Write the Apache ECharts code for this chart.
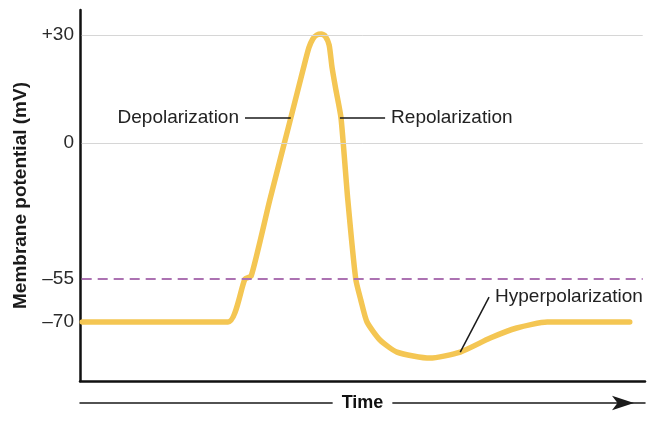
<!DOCTYPE html>
<html>
<head>
<meta charset="utf-8">
<script src="https://cdn.jsdelivr.net/npm/echarts@6/dist/echarts.min.js"></script>
<style>
  html, body { margin: 0; background: #fff; }
  #chart { width: 650px; height: 436px; }
</style>
</head>
<body>
<div id="chart"></div>
<script>
// time (arbitrary units, 0-100) and membrane potential (mV)
const time = [0.4, 26.2, 29.2, 30.3, 33.6, 37.3, 39.6, 40.5, 41.2, 41.9, 42.7, 43.4, 44.1, 44.6,
  45.3, 46.2, 47.4, 48.8, 49.7, 50.8, 53.1, 56.1, 61.9, 67.3, 72.6, 77.3, 82.7, 97.3];
const potential = [-70, -70, -55, -53.8, -23, 6.9, 21.1, 26.4, 28.9, 30, 30.3, 29.7, 27.2, 21.1,
  14.7, 6.9, -23, -55, -62.3, -70, -76.3, -80.5, -82.6, -80.5, -75.6, -72.1, -70, -70];

const tickValues = [30, 0, -55, -70];
const tickLabels = ['+30', '0', '–55', '–70'];
const threshold = -55;

// callouts: [text, t1, mV1, t2, mV2, label side]
const callouts = [
  ['Depolarization', 29.2, 6.9, 37.3, 6.9, 'left'],
  ['Repolarization', 46.0, 6.9, 54.0, 6.9, 'right'],
  ['Hyperpolarization', 67.3, -80.5, 72.4, -61.3, 'right']
];

// the drawing's potential axis is schematic (not linear), so map mV onto a warped axis
const scaleMv = [-70, -55, 0, 30];
const scalePos = [59, 102, 238, 346];
function toAxis(mv) {
  let i = 0;
  if (mv <= scaleMv[0]) i = 0;
  else if (mv >= scaleMv[scaleMv.length - 1]) i = scaleMv.length - 2;
  else while (mv > scaleMv[i + 1]) i++;
  const k = (scalePos[i + 1] - scalePos[i]) / (scaleMv[i + 1] - scaleMv[i]);
  return scalePos[i] + (mv - scaleMv[i]) * k;
}

const font = '"Liberation Sans", Arial, Helvetica, sans-serif';
const myChart = echarts.init(document.getElementById('chart'));

const gridLine = (mv, style) => [
  { coord: [0.3, toAxis(mv)], lineStyle: style },
  { coord: [99.6, toAxis(mv)] }
];

const option = {
  animation: false,
  textStyle: { fontFamily: font },
  grid: { left: 80, right: 5, top: 10, bottom: 55 },
  xAxis: [
    {
      type: 'value', min: 0, max: 100,
      axisLine: { onZero: false, lineStyle: { color: '#111', width: 2.5 } },
      axisTick: { show: false }, axisLabel: { show: false }, splitLine: { show: false }
    },
    {
      type: 'value', min: 0, max: 100, position: 'bottom', offset: 22,
      axisLine: {
        show: true, onZero: false,
        symbol: ['none', 'arrow'], symbolSize: [11, 22], symbolOffset: [0, -11],
        lineStyle: { color: '#1a1a1a', width: 1.5 }
      },
      axisTick: { show: false }, axisLabel: { show: false }, splitLine: { show: false }
    }
  ],
  yAxis: {
    type: 'value', min: 0, max: 371,
    axisLine: { show: true, onZero: false, lineStyle: { color: '#111', width: 2.5 } },
    axisTick: { show: false },
    splitLine: { show: false },
    axisLabel: {
      customValues: tickValues.map(toAxis),
      formatter: function (v) {
        const i = tickValues.findIndex(m => Math.abs(toAxis(m) - v) < 0.5);
        return i >= 0 ? tickLabels[i] : '';
      },
      fontSize: 19, color: '#2a2a2a', margin: 6, fontFamily: font
    },
    name: 'Membrane potential (mV)', nameLocation: 'middle', nameGap: 50,
    nameTextStyle: { fontFamily: font, fontSize: 19, fontWeight: 'bold', color: '#1a1a1a' }
  },
  graphic: [{
    type: 'text', x: 362.5, y: 403, z: 100,
    style: {
      text: 'Time', font: 'bold 18px ' + font, fill: '#111',
      align: 'center', verticalAlign: 'middle',
      backgroundColor: '#fff', padding: [2, 9]
    }
  }],
  series: [
    {
      name: 'guides', type: 'line', data: [], z: 1, silent: true,
      markLine: {
        symbol: 'none', silent: true, label: { show: false },
        data: [
          gridLine(30, { color: '#d6d6d6', width: 1, type: 'solid' }),
          gridLine(0, { color: '#d6d6d6', width: 1, type: 'solid' }),
          gridLine(threshold, { color: '#ac72b2', width: 2, type: [10, 6] })
        ].concat(callouts.map(c => [
          { coord: [c[1], toAxis(c[2])], lineStyle: { color: '#1a1a1a', width: 1.5, type: 'solid' } },
          { coord: [c[3], toAxis(c[4])] }
        ]))
      },
      markPoint: {
        symbol: 'circle', symbolSize: 0, silent: true,
        label: { show: true, fontFamily: font, fontSize: 19, color: '#222', distance: 6 },
        data: callouts.map(c => c[5] === 'left'
          ? { coord: [c[1], toAxis(c[2])], label: { position: 'left', formatter: c[0] } }
          : { coord: [c[3], toAxis(c[4])], label: { position: 'right', formatter: c[0] } })
      }
    },
    {
      name: 'Membrane potential', type: 'line', z: 3, silent: true,
      data: time.map((t, i) => [t, toAxis(potential[i])]),
      showSymbol: false, smooth: 0.2,
      lineStyle: { color: '#f4c653', width: 5.5, cap: 'round', join: 'round' }
    }
  ]
};

myChart.setOption(option);
</script>
</body>
</html>
